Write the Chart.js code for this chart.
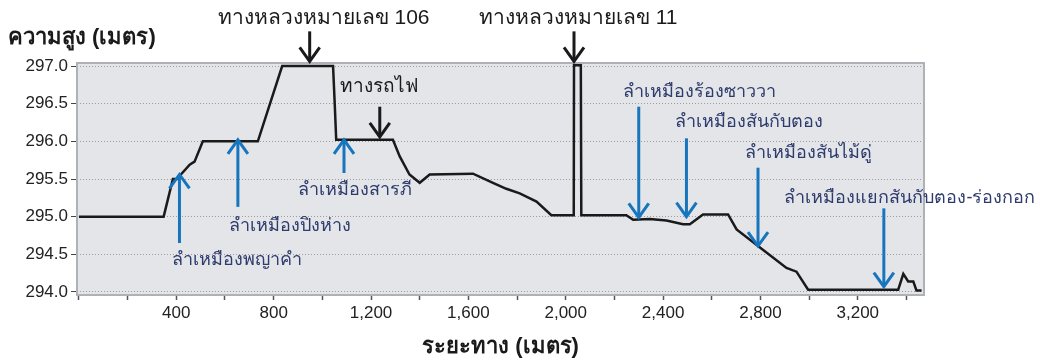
<!DOCTYPE html>
<html>
<head>
<meta charset="utf-8">
<script src="https://cdn.jsdelivr.net/npm/chart.js@4.4.1/dist/chart.umd.min.js"></script>
<style>
  html, body { margin: 0; padding: 0; background: #fff; }
  #wrap { width: 1040px; height: 360px; }
</style>
</head>
<body>
<div id="wrap"><canvas id="perfil"></canvas></div>
<script>
// ระยะทาง (m) และ ความสูง (m) ของแนวสำรวจ
var distancia = [0, 348, 386, 402, 455, 475, 509, 735, 835, 1044, 1051, 1057, 1290, 1318, 1358, 1400, 1441, 1619,
  1701, 1756, 1811, 1880, 1941, 2033, 2034, 2062, 2064, 2249, 2277, 2345, 2414, 2482, 2510, 2564, 2667,
  2702, 2790, 2907, 2948, 2996, 3366, 3387, 3407, 3428, 3441, 3462];
var altura = [295.0, 295.0, 295.5, 295.5, 295.69, 295.73, 296.0, 296.0, 297.0, 297.0, 296.49, 296.02, 296.02, 295.8,
  295.56, 295.45, 295.56, 295.57, 295.45, 295.37, 295.31, 295.2, 295.02, 295.02, 297.01, 297.01, 295.02,
  295.02, 294.96, 294.97, 294.95, 294.9, 294.9, 295.03, 295.03, 294.83, 294.61, 294.32, 294.27, 294.03,
  294.03, 294.24, 294.14, 294.14, 294.02, 294.02];

var ticksX = [0, 200, 400, 600, 800, 1000, 1200, 1400, 1600, 1800, 2000, 2200, 2400, 2600, 2800, 3000, 3200, 3400];
var etiquetasX = ['', '', '400', '', '800', '', '1,200', '', '1,600', '', '2,000', '', '2,400', '', '2,800', '', '3,200', ''];
var ticksY = [294.0, 294.5, 295.0, 295.5, 296.0, 296.5, 297.0];

// ลำเหมือง (ลูกศรสีน้ำเงิน) และ ถนน/ทางรถไฟ (ลูกศรสีดำ)
var nombresAcequias = ['ลำเหมืองพญาคำ', 'ลำเหมืองปิงห่าง', 'ลำเหมืองสารภี', 'ลำเหมืองร้องซาววา',
  'ลำเหมืองสันกับตอง', 'ลำเหมืองสันไม้ดู่', 'ลำเหมืองแยกสันกับตอง-ร่องกอก'];
var posAcequias = [413, 653, 1089, 2300, 2496, 2790, 3307];
var nombresCruces = ['ทางหลวงหมายเลข 106', 'ทางรถไฟ', 'ทางหลวงหมายเลข 11'];
var posCruces = [948, 1236, 2034];

// ตำแหน่งวาดลูกศร/ข้อความ (หน่วยของแกน)
var flechasAcequias = [
  { desde: 294.65, hasta: 295.56, tx: 648, ty: 294.43 },
  { desde: 295.13, hasta: 296.02, tx: 868, ty: 294.87 },
  { desde: 295.58, hasta: 296.02, tx: 1135, ty: 295.36 },
  { desde: 296.46, hasta: 294.99, tx: 2549, ty: 296.66 },
  { desde: 296.04, hasta: 295.0, tx: 2752, ty: 296.25 },
  { desde: 295.65, hasta: 294.61, tx: 2996, ty: 295.84 },
  { desde: 295.11, hasta: 294.07, tx: 3414, ty: 295.25 }
];
var flechasCruces = [
  { desde: 297.46, hasta: 297.06, tx: 1005, ty: 297.63, size: 21 },
  { desde: 296.46, hasta: 296.06, tx: 1231, ty: 296.73, size: 19 },
  { desde: 297.46, hasta: 297.06, tx: 2051, ty: 297.63, size: 21 }
];

var FUENTE = '"Liberation Sans", Arial, sans-serif';

function flecha(ctx, x, y1, y2, color) {
  var dir = y2 > y1 ? 1 : -1;
  ctx.save();
  ctx.strokeStyle = color;
  ctx.lineWidth = 3;
  ctx.lineCap = 'butt';
  ctx.beginPath();
  ctx.moveTo(x, y1);
  ctx.lineTo(x, y2 - dir * 2);
  ctx.stroke();
  ctx.beginPath();
  ctx.moveTo(x - 10, y2 - dir * 14);
  ctx.lineTo(x, y2);
  ctx.lineTo(x + 10, y2 - dir * 14);
  ctx.stroke();
  ctx.restore();
}

var fondoPlot = {
  id: 'fondoPlot',
  beforeDraw: function (chart) {
    var a = chart.chartArea, ctx = chart.ctx;
    ctx.save();
    ctx.fillStyle = '#e3e5e9';
    ctx.fillRect(a.left, a.top, a.right - a.left, a.bottom - a.top);
    ctx.restore();
  },
  afterDraw: function (chart) {
    var a = chart.chartArea, ctx = chart.ctx;
    var sx = chart.scales.x, sy = chart.scales.y;
    ctx.save();
    ctx.strokeStyle = '#aeb2b7';
    ctx.lineWidth = 2;
    ctx.strokeRect(a.left, a.top, a.right - a.left, a.bottom - a.top);

    ctx.fillStyle = '#1a1a1a';
    ctx.font = 'bold 22px ' + FUENTE;
    ctx.textAlign = 'left';
    ctx.textBaseline = 'middle';
    ctx.fillText('ความสูง (เมตร)', 8, 38);

    for (var i = 0; i < nombresAcequias.length; i++) {
      var f = flechasAcequias[i];
      var x = sx.getPixelForValue(posAcequias[i]);
      flecha(ctx, x, sy.getPixelForValue(f.desde), sy.getPixelForValue(f.hasta), '#1675bd');
      ctx.fillStyle = '#2e3b6c';
      ctx.font = '18px ' + FUENTE;
      ctx.textAlign = 'center';
      ctx.fillText(nombresAcequias[i], sx.getPixelForValue(f.tx), sy.getPixelForValue(f.ty));
    }
    for (var j = 0; j < nombresCruces.length; j++) {
      var c = flechasCruces[j];
      var xc = sx.getPixelForValue(posCruces[j]);
      flecha(ctx, xc, sy.getPixelForValue(c.desde), sy.getPixelForValue(c.hasta), '#1a1a1a');
      ctx.fillStyle = '#1a1a1a';
      ctx.font = c.size + 'px ' + FUENTE;
      ctx.textAlign = 'center';
      ctx.fillText(nombresCruces[j], sx.getPixelForValue(c.tx), sy.getPixelForValue(c.ty));
    }
    ctx.restore();
  }
};

var puntos = distancia.map(function (d, i) { return { x: d, y: altura[i] }; });

var ctx = document.getElementById('perfil');
var myChart = new Chart(ctx, {
  type: 'line',
  data: {
    datasets: [{
      label: 'ความสูง',
      data: puntos,
      borderColor: '#1a1a1a',
      borderWidth: 2.5,
      pointRadius: 0,
      tension: 0,
      fill: false
    }]
  },
  options: {
    responsive: true,
    maintainAspectRatio: false,
    animation: false,
    layout: { padding: { top: 63, right: 116, left: 0, bottom: 0 } },
    plugins: {
      legend: { display: false },
      tooltip: { enabled: false }
    },
    scales: {
      x: {
        type: 'linear',
        min: -8,
        max: 3472,
        afterFit: function (s) { s.height = 65; },
        afterBuildTicks: function (s) { s.ticks = ticksX.map(function (v) { return { value: v }; }); },
        ticks: {
          autoSkip: false,
          maxRotation: 0,
          padding: 3,
          color: '#222',
          font: { family: FUENTE, size: 17 },
          callback: function (v) { var k = ticksX.indexOf(v); return k >= 0 ? etiquetasX[k] : ''; }
        },
        grid: { drawOnChartArea: false, tickLength: 5, tickColor: '#555', tickWidth: 1.5 },
        border: { display: false },
        title: {
          display: true,
          text: 'ระยะทาง (เมตร)',
          color: '#1a1a1a',
          font: { family: FUENTE, size: 22, weight: 'bold' },
          padding: { top: 0, bottom: 0 }
        }
      },
      y: {
        min: 293.96,
        max: 297.04,
        afterFit: function (s) { s.width = 77; },
        afterBuildTicks: function (s) { s.ticks = ticksY.map(function (v) { return { value: v }; }); },
        ticks: {
          padding: 3,
          color: '#222',
          font: { family: FUENTE, size: 17 },
          callback: function (v) { return v.toFixed(1); }
        },
        grid: {
          color: '#9a9da0',
          lineWidth: 1,
          tickLength: 6,
          tickColor: '#444',
          tickBorderDash: [],
          borderDash: [1, 2]
        },
        border: { display: false, dash: [1, 2] }
      }
    }
  },
  plugins: [fondoPlot]
});
</script>
</body>
</html>
